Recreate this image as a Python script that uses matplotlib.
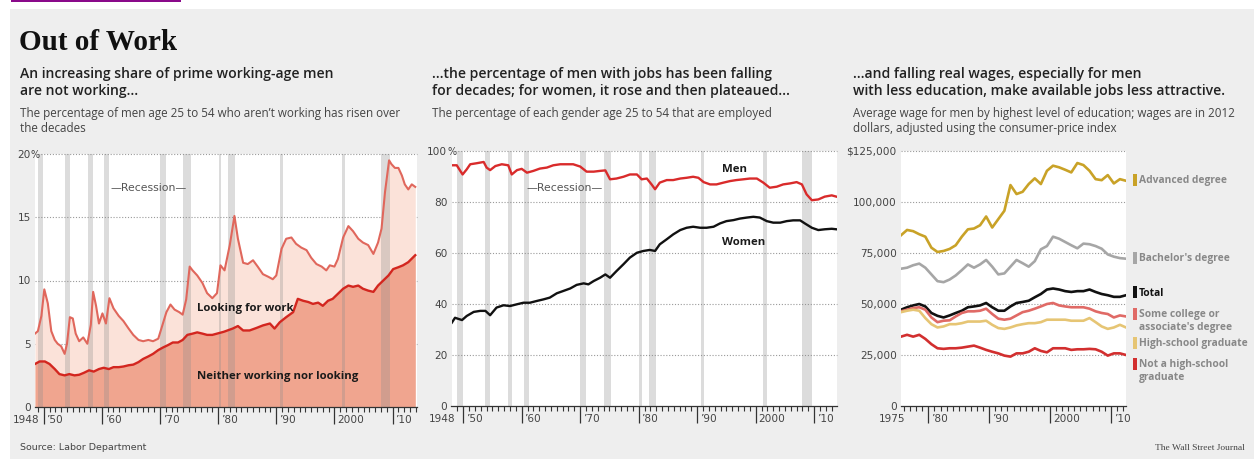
import matplotlib
matplotlib.use("Agg")
import matplotlib.pyplot as plt
from matplotlib.patches import Rectangle

W, H = 1254, 460
plt.rcParams["font.family"] = ["Open Sans", "DejaVu Sans"]

# recession bands (decimal years)
RECESSIONS = [(1949.0, 1949.9), (1953.7, 1954.5), (1957.7, 1958.4), (1960.4, 1961.2),
              (1970.0, 1971.0), (1974.0, 1975.3), (1980.1, 1980.5), (1981.7, 1982.9),
              (1990.6, 1991.2), (2001.3, 2001.9), (2008.0, 2009.6)]

# panel 1: share of men 25-54 not working (%)
NOT_WORKING_X = [1948.5, 1949.0, 1949.6, 1950.1, 1950.7, 1951.3, 1951.9, 1952.4, 1953.0, 1953.6,
                 1954.0, 1954.5, 1955.0, 1955.5, 1956.1, 1956.8, 1957.5, 1958.1, 1958.5, 1959.0,
                 1959.5, 1960.1, 1960.7, 1961.3, 1962.0, 1962.9, 1963.7, 1964.6, 1965.4, 1966.3,
                 1967.1, 1968.0, 1968.8, 1969.7, 1970.3, 1971.1, 1971.8, 1972.5, 1973.3, 1973.9,
                 1974.5, 1975.1, 1975.6, 1976.4, 1977.3, 1978.1, 1979.0, 1979.8, 1980.4, 1981.1,
                 1982.0, 1982.8, 1983.4, 1984.3, 1985.1, 1986.0, 1986.8, 1987.7, 1988.6, 1989.4,
                 1990.0, 1990.9, 1991.7, 1992.6, 1993.4, 1994.3, 1995.2, 1996.0, 1996.9, 1997.8,
                 1998.6, 1999.2, 2000.0, 2000.6, 2001.5, 2002.4, 2003.2, 2004.1, 2004.9, 2005.8,
                 2006.7, 2007.5, 2008.1, 2008.7, 2009.4, 2009.8, 2010.4, 2011.0, 2011.6, 2012.1,
                 2012.7, 2013.3, 2013.9]
NOT_WORKING = [5.8, 6.0, 7.2, 9.3, 8.2, 6.0, 5.3, 5.0, 4.8, 4.2,
               5.0, 7.1, 7.0, 5.8, 5.2, 5.5, 5.0, 6.5, 9.1, 8.0,
               6.6, 7.4, 6.6, 8.6, 7.8, 7.2, 6.8, 6.2, 5.7, 5.3,
               5.2, 5.3, 5.2, 5.4, 6.3, 7.5, 8.1, 7.7, 7.5, 7.3,
               8.5, 11.1, 10.8, 10.4, 9.8, 9.0, 8.6, 9.0, 11.2, 10.8,
               12.8, 15.1, 13.3, 11.4, 11.3, 11.6, 11.1, 10.5, 10.3, 10.1,
               10.4, 12.5, 13.3, 13.4, 12.9, 12.6, 12.4, 11.8, 11.3, 11.1,
               10.8, 11.2, 11.1, 11.7, 13.4, 14.3, 13.9, 13.3, 13.0, 12.8,
               12.1, 13.0, 14.1, 17.0, 19.5, 19.2, 18.9, 18.9, 18.3, 17.6,
               17.2, 17.6, 17.4]

NOT_LOOKING_X = [1948.5, 1949.3, 1950.2, 1951.0, 1951.9, 1952.7, 1953.6, 1954.4, 1955.3, 1956.1,
                 1956.9, 1957.8, 1958.6, 1959.5, 1960.3, 1961.2, 1962.0, 1962.9, 1963.7, 1964.6,
                 1965.4, 1966.3, 1967.1, 1968.0, 1968.8, 1969.7, 1970.5, 1971.4, 1972.2, 1973.1,
                 1973.9, 1974.7, 1975.6, 1976.4, 1977.3, 1978.1, 1979.0, 1979.8, 1981.0, 1982.5,
                 1983.4, 1984.3, 1985.4, 1986.6, 1987.7, 1988.9, 1989.7, 1990.6, 1991.7, 1992.9,
                 1993.7, 1994.6, 1995.5, 1996.3, 1997.2, 1998.0, 1998.9, 1999.7, 2000.6, 2001.5,
                 2002.4, 2003.2, 2004.1, 2004.9, 2005.8, 2006.7, 2007.5, 2008.4, 2009.3, 2010.1,
                 2011.0, 2011.8, 2012.7, 2013.9]
NOT_LOOKING = [3.4, 3.6, 3.6, 3.4, 3.0, 2.6, 2.5, 2.6, 2.5, 2.55,
               2.7, 2.9, 2.8, 3.0, 3.1, 3.0, 3.15, 3.15, 3.2, 3.3,
               3.35, 3.55, 3.8, 4.0, 4.2, 4.5, 4.7, 4.9, 5.1, 5.1,
               5.3, 5.7, 5.8, 5.9, 5.8, 5.7, 5.7, 5.8, 5.95, 6.2,
               6.4, 6.05, 6.05, 6.25, 6.45, 6.6, 6.2, 6.7, 7.1, 7.5,
               8.55, 8.4, 8.3, 8.15, 8.25, 8.0, 8.4, 8.55, 8.95, 9.35,
               9.6, 9.5, 9.6, 9.35, 9.2, 9.1, 9.6, 10.0, 10.4, 10.9,
               11.05, 11.2, 11.45, 12.0]

# panel 2: employment rate age 25-54 (%)
MEN_X = [1948.06, 1948.9, 1949.5, 1949.9, 1950.6, 1951.2, 1952.3, 1953.5, 1954.0, 1954.6,
         1955.5, 1956.6, 1957.7, 1958.3, 1959.2, 1960.0, 1960.9, 1962.0, 1963.1, 1964.3,
         1965.4, 1966.6, 1967.7, 1968.8, 1970.0, 1971.1, 1972.3, 1973.4, 1974.3, 1975.1,
         1976.2, 1977.4, 1978.5, 1979.7, 1980.5, 1981.4, 1982.2, 1982.8, 1983.6, 1984.8,
         1985.9, 1987.1, 1988.2, 1989.3, 1990.2, 1991.1, 1992.2, 1993.3, 1994.5, 1995.6,
         1996.7, 1997.9, 1999.0, 2000.2, 2001.3, 2002.4, 2003.6, 2004.7, 2005.9, 2007.0,
         2007.9, 2008.7, 2009.6, 2010.7, 2011.8, 2013.0, 2013.8]
MEN = [94.4, 94.4, 92.2, 90.8, 92.8, 94.8, 95.2, 95.7, 93.5, 92.5,
       94.1, 94.8, 94.4, 90.8, 92.5, 93.0, 91.5, 92.2, 93.1, 93.5,
       94.4, 94.8, 94.8, 94.8, 93.9, 91.9, 91.9, 92.2, 92.4, 88.9,
       89.2, 89.9, 90.8, 90.8, 88.9, 89.2, 86.9, 85.0, 87.6, 88.6,
       88.6, 89.2, 89.5, 89.9, 89.5, 87.8, 86.9, 86.9, 87.6, 88.2,
       88.6, 88.9, 89.2, 89.2, 87.6, 85.6, 86.0, 86.9, 87.3, 87.8,
       86.9, 83.0, 80.7, 81.0, 82.1, 82.6, 82.1]

WOMEN_X = [1948.06, 1948.6, 1949.8, 1950.6, 1951.8, 1952.9, 1953.8, 1954.6, 1955.7, 1956.9,
           1958.0, 1959.2, 1960.3, 1961.4, 1962.6, 1963.7, 1964.8, 1966.0, 1967.1, 1968.3,
           1969.4, 1970.6, 1971.4, 1972.3, 1973.4, 1974.3, 1975.1, 1976.2, 1977.4, 1978.5,
           1979.7, 1980.8, 1981.9, 1982.8, 1983.6, 1984.8, 1985.9, 1987.1, 1988.2, 1989.3,
           1990.5, 1991.6, 1992.8, 1993.9, 1995.0, 1996.2, 1997.3, 1998.5, 1999.6, 2000.7,
           2001.9, 2003.0, 2004.2, 2005.3, 2006.4, 2007.6, 2008.4, 2009.6, 2010.7, 2011.8,
           2013.0, 2013.8]
WOMEN = [32.7, 34.6, 33.7, 35.3, 36.9, 37.3, 37.3, 35.6, 38.6, 39.5,
         39.2, 39.9, 40.5, 40.5, 41.2, 41.8, 42.5, 44.2, 45.1, 46.1,
         47.5, 48.1, 47.7, 49.0, 50.3, 51.6, 50.3, 52.9, 55.6, 58.2,
         60.1, 60.8, 61.2, 60.8, 63.4, 65.4, 67.3, 69.0, 69.9, 70.3,
         69.9, 69.9, 70.3, 71.6, 72.5, 72.9, 73.5, 73.9, 74.2, 73.9,
         72.5, 71.9, 71.9, 72.5, 72.8, 72.8, 71.6, 69.9, 69.0, 69.3,
         69.5, 69.3]

# panel 3: average wage for men, thousands of 2012 dollars
WAGE_YEARS = list(range(1975, 2013))
ADVANCED = [83.7, 86.3, 85.7, 84.2, 83.0, 77.6, 75.5, 76.0, 77.0, 78.8,
            83.0, 86.6, 87.0, 88.6, 92.9, 87.5, 91.6, 95.7, 108.3, 103.9,
            105.0, 108.8, 111.6, 108.8, 115.3, 117.8, 117.0, 115.8, 114.5, 119.1,
            118.1, 115.3, 111.2, 110.7, 113.2, 109.1, 111.2, 110.4]
BACHELOR = [67.3, 67.8, 69.0, 69.8, 67.8, 64.5, 61.2, 60.7, 62.0, 64.0,
            66.6, 69.4, 67.8, 69.4, 71.6, 68.3, 64.5, 65.0, 68.3, 71.6,
            70.0, 68.3, 71.0, 76.8, 78.4, 83.0, 82.0, 80.4, 78.8, 77.3,
            79.6, 79.3, 78.4, 77.1, 74.3, 73.2, 72.5, 72.2]
TOTAL = [47.2, 48.4, 49.3, 50.0, 48.8, 45.6, 44.2, 43.4, 44.4, 45.6,
         46.7, 48.4, 48.8, 49.3, 50.5, 48.4, 46.7, 46.7, 48.8, 50.5,
         51.0, 51.6, 53.3, 54.9, 57.1, 57.6, 57.1, 56.3, 55.9, 56.3,
         56.3, 57.1, 55.9, 54.9, 54.3, 53.5, 53.5, 54.3]
SOME_COLLEGE = [46.4, 47.2, 48.0, 48.4, 47.2, 43.4, 41.1, 41.8, 42.0, 43.9,
                45.6, 46.4, 46.4, 46.7, 47.7, 45.1, 42.8, 42.3, 42.8, 44.4,
                46.0, 46.7, 47.7, 48.8, 50.0, 50.5, 49.3, 48.8, 48.4, 48.4,
                48.4, 47.7, 46.4, 45.6, 45.1, 43.4, 44.4, 43.9]
HIGH_SCHOOL = [46.0, 46.7, 47.2, 46.7, 43.1, 40.1, 38.5, 39.0, 40.1, 40.1,
               40.6, 41.4, 41.4, 41.4, 41.8, 39.8, 38.2, 37.8, 38.5, 39.5,
               40.1, 40.6, 40.6, 41.1, 42.3, 42.3, 42.3, 42.3, 41.8, 41.8,
               41.8, 43.1, 41.1, 39.0, 37.8, 38.5, 39.8, 38.5]
NO_HIGH_SCHOOL = [34.0, 34.9, 34.0, 34.9, 32.9, 30.3, 28.3, 28.0, 28.3, 28.3,
                  28.6, 29.1, 29.6, 28.6, 27.5, 26.6, 25.8, 24.7, 24.2, 25.8,
                  25.8, 26.6, 28.3, 27.0, 26.3, 28.3, 28.3, 28.3, 27.5, 27.8,
                  27.8, 28.0, 27.8, 26.6, 24.7, 25.8, 25.8, 25.0]

WAGE_SERIES = [
    ("Advanced degree", ADVANCED, "#c9a227", "#888888"),
    ("Bachelor's degree", BACHELOR, "#a6a6a6", "#888888"),
    ("Total", TOTAL, "#111111", "#111111"),
    ("Some college or\nassociate's degree", SOME_COLLEGE, "#e06a66", "#888888"),
    ("High-school graduate", HIGH_SCHOOL, "#e6c574", "#888888"),
    ("Not a high-school\ngraduate", NO_HIGH_SCHOOL, "#d22f2f", "#888888"),
]
# pixel row of the first line of each wage label
WAGE_LABEL_Y = [181, 259, 293, 315, 344, 365]

BG = "#eeeeee"
TICK_COLOR = "#444444"
NARROW = ["Liberation Sans Narrow", "DejaVu Sans"]


def fx(px):
    return px / W


def fy(py):
    return 1 - py / H


def make_axes(fig, left, top, right, bottom):
    return fig.add_axes([fx(left), fy(bottom), fx(right - left), (bottom - top) / H])


def style_axes(ax, xlim, ylim, yticks, ylabels, suffix, majors, major_labels, minors, first_label):
    ax.set_xlim(*xlim)
    ax.set_ylim(*ylim)
    ax.set_facecolor("white")
    for s in ["top", "right", "left"]:
        ax.spines[s].set_visible(False)
    ax.spines["bottom"].set_color("#333333")
    ax.spines["bottom"].set_linewidth(0.9)
    ax.spines["bottom"].set_zorder(6)
    ax.set_yticks([])
    for t, lab in zip(yticks, ylabels):
        if t > ylim[0]:
            ax.axhline(t, color="#9a9a9a", lw=0.8, ls=(0, (1, 1.6)), zorder=0.6, clip_on=False)
        ax.annotate(lab, xy=(0, t), xycoords=("axes fraction", "data"), xytext=(-3, 0),
                    textcoords="offset points", ha="right", va="center",
                    fontsize=7.6, color=TICK_COLOR, family=NARROW)
    if suffix:
        ax.annotate(suffix, xy=(0, yticks[-1]), xycoords=("axes fraction", "data"), xytext=(-3, 0),
                    textcoords="offset points", ha="left", va="center",
                    fontsize=7.0, color=TICK_COLOR, family=NARROW)
    ax.set_xticks(majors)
    ax.set_xticklabels([])
    ax.set_xticks(minors, minor=True)
    ax.tick_params(axis="x", which="major", length=12, width=0.9, color="#333333", direction="out")
    ax.tick_params(axis="x", which="minor", length=3.5, width=0.8, color="#333333", direction="out")
    for m, lab in zip(majors, major_labels):
        ax.annotate(lab, xy=(m, 0), xycoords=("data", "axes fraction"), xytext=(2, -8.5),
                    textcoords="offset points", ha="left", va="center",
                    fontsize=7.6, color=TICK_COLOR, family=NARROW)
    ax.annotate(first_label, xy=(xlim[0], 0), xycoords=("data", "axes fraction"), xytext=(3, -8.5),
                textcoords="offset points", ha="right", va="center",
                fontsize=7.6, color=TICK_COLOR, family=NARROW)


def recessions(ax):
    for s, e in RECESSIONS:
        ax.axvspan(s, e, color="#8c8c8c", alpha=0.3, lw=0, zorder=2)


fig = plt.figure(figsize=(W / 100, H / 100), dpi=100)
fig.patch.set_facecolor("white")
fig.add_artist(Rectangle((fx(10), 0), 1 - fx(10), fy(10), transform=fig.transFigure,
                         facecolor=BG, edgecolor="none", zorder=-10))
fig.add_artist(Rectangle((fx(11), fy(2.5)), fx(170), 2.5 / H, transform=fig.transFigure,
                         facecolor="#8a0a8a", edgecolor="none"))

fig.text(fx(19), fy(50), "Out of Work", fontsize=21, fontweight="bold",
         family=["Liberation Serif", "DejaVu Serif"], color="#111111", va="baseline")

HEAD_KW = dict(fontsize=10.05, fontweight="semibold", color="#222222", va="baseline")
DESC_KW = dict(fontsize=8.4, color="#444444", va="baseline")
headlines = [
    (20, "An increasing share of prime working-age men", "are not working…",
     "The percentage of men age 25 to 54 who aren\u2019t working has risen over", "the decades"),
    (432, "…the percentage of men with jobs has been falling",
     "for decades; for women, it rose and then plateaued…",
     "The percentage of each gender age 25 to 54 that are employed", None),
    (853, "…and falling real wages, especially for men",
     "with less education, make available jobs less attractive.",
     "Average wage for men by highest level of education; wages are in 2012",
     "dollars, adjusted using the consumer-price index"),
]
for x0, h1, h2, d1, d2 in headlines:
    fig.text(fx(x0), fy(78), h1, **HEAD_KW)
    fig.text(fx(x0), fy(95), h2, **HEAD_KW)
    fig.text(fx(x0), fy(117), d1, **DESC_KW)
    if d2:
        fig.text(fx(x0), fy(132), d2, **DESC_KW)

fig.text(fx(20), fy(448), "Source: Labor Department", fontsize=6.8, color="#444444",
         va="center", family=NARROW)
fig.text(fx(1245), fy(448), "The Wall Street Journal", fontsize=6.8, color="#444444",
         va="center", ha="right", family=["Liberation Serif", "DejaVu Serif"])

decades = [1950, 1960, 1970, 1980, 1990, 2000, 2010]
decade_labels = ["\u201950", "\u201960", "\u201970", "\u201980", "\u201990", "2000", "\u201910"]

# panel 1
ax1 = make_axes(fig, 35, 155, 417, 408)
style_axes(ax1, (1948.5, 2014.2), (0, 20), [0, 5, 10, 15, 20], ["0", "5", "10", "15", "20"], "%",
           decades, decade_labels, list(range(1949, 2015)), "1948")
ax1.fill_between(NOT_WORKING_X, NOT_WORKING, 0, color="#fbe2d9", lw=0, zorder=1)
ax1.fill_between(NOT_LOOKING_X, NOT_LOOKING, 0, color="#f0a58f", lw=0, zorder=1.5)
recessions(ax1)
ax1.plot(NOT_WORKING_X, NOT_WORKING, color="#e0675c", lw=1.5, zorder=4)
ax1.plot(NOT_LOOKING_X, NOT_LOOKING, color="#d3261f", lw=1.7, zorder=4)
ax1.text(1976.3, 7.9, "Looking for work", fontsize=8.2, fontweight="bold", color="#1a1a1a",
         va="center", zorder=5)
ax1.text(1976.3, 2.5, "Neither working nor looking", fontsize=8.2, fontweight="bold",
         color="#1a1a1a", va="center", zorder=5)
ax1.text(1961.4, 17.4, "\u2014Recession\u2014", fontsize=7.8, color="#555555", va="center",
         family=NARROW)

# panel 2
ax2 = make_axes(fig, 451.5, 152, 837, 407)
style_axes(ax2, (1948.0, 2013.9), (0, 100), [0, 20, 40, 60, 80, 100],
           ["0", "20", "40", "60", "80", "100"], "%",
           decades, decade_labels, list(range(1949, 2014)), "1948")
recessions(ax2)
ax2.plot(MEN_X, MEN, color="#d92b2b", lw=1.7, zorder=4)
ax2.plot(WOMEN_X, WOMEN, color="#111111", lw=1.7, zorder=4)
ax2.text(1994.2, 93.2, "Men", fontsize=8.2, fontweight="bold", color="#1a1a1a", va="center")
ax2.text(1994.2, 64.7, "Women", fontsize=8.2, fontweight="bold", color="#1a1a1a", va="center")
ax2.text(1960.9, 85.9, "\u2014Recession\u2014", fontsize=7.8, color="#555555", va="center",
         family=NARROW)

# panel 3 (annual averages plotted at mid-year)
ax3 = make_axes(fig, 901, 152, 1126, 407)
wage_x = [y + 0.5 for y in WAGE_YEARS]
style_axes(ax3, (1975.5, 2012.5), (0, 125), [0, 25, 50, 75, 100, 125],
           ["0", "25,000", "50,000", "75,000", "100,000", "$125,000"], None,
           [1980, 1990, 2000, 2010], ["\u201980", "\u201990", "2000", "\u201910"],
           list(range(1976, 2013)), "1975")
for (name, vals, col, tcol), ly in zip(WAGE_SERIES, WAGE_LABEL_Y):
    ax3.plot(wage_x, vals, color=col, lw=1.9, zorder=4, solid_joinstyle="round")
    fig.add_artist(Rectangle((fx(1133), fy(ly + 6)), fx(3.5), 12 / H, transform=fig.transFigure,
                             facecolor=col, edgecolor="none"))
    if "\n" in name:
        fig.text(fx(1139), fy(ly - 6), name, fontsize=7.4, color=tcol, va="top",
                 fontweight="bold", linespacing=1.2)
    else:
        fig.text(fx(1139), fy(ly), name, fontsize=7.4, color=tcol, va="center", fontweight="bold")

fig.savefig("out.png", dpi=100, facecolor="white")
